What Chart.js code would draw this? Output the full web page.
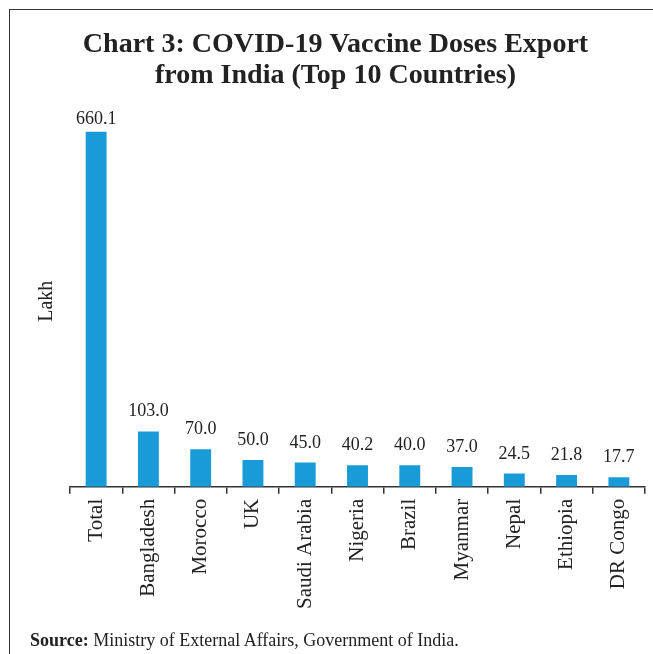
<!DOCTYPE html>
<html>
<head>
<meta charset="utf-8">
<script src="https://cdn.jsdelivr.net/npm/chart.js@4.4.0/dist/chart.umd.min.js"></script>
<style>
    html, body { margin: 0; padding: 0; background: #fff; }
    #wrap { position: relative; width: 653px; height: 654px; overflow: hidden; }
    #cornice { position: absolute; left: 9px; top: 9px; right: 0; bottom: 0; border-top: 1px solid #333; border-left: 1px solid #333; }
    #grafico { position: absolute; left: 0; top: 0; }
    #fonte { position: absolute; left: 30px; top: 630px; font: 18px 'Liberation Serif', serif; color: #222; white-space: nowrap; }
    #fonte b { font-weight: bold; }
</style>
</head>
<body>
<div id="wrap">
    <div id="cornice"></div>
    <canvas id="grafico" width="653" height="654"></canvas>
    <div id="fonte"><b>Source:</b> Ministry of External Affairs, Government of India.</div>
</div>
<script>
const paesi = ['Total','Bangladesh','Morocco','UK','Saudi Arabia','Nigeria','Brazil','Myanmar','Nepal','Ethiopia','DR Congo']
const dosi = [660.1, 103.0, 70.0, 50.0, 45.0, 40.2, 40.0, 37.0, 24.5, 21.8, 17.7]
const titolo = ['Chart 3: COVID-19 Vaccine Doses Export', 'from India (Top 10 Countries)']
const unita = 'Lakh'

// scrive il valore sopra ogni barra, senza uscire dall'area del grafico
const etichette = {
    id: 'etichette',
    afterDatasetsDraw(chart) {
        const ctx = chart.ctx
        const meta = chart.getDatasetMeta(0)
        ctx.save()
        ctx.font = '18px "Liberation Serif", serif'
        ctx.fillStyle = '#222'
        ctx.textAlign = 'center'
        ctx.textBaseline = 'alphabetic'
        meta.data.forEach((barra, i) => {
            let y = Math.max(barra.y - 15, chart.chartArea.top + 8)
            ctx.fillText(dosi[i].toFixed(1), barra.x, y)
        })
        ctx.restore()
    }
}

new Chart(document.getElementById('grafico'), {
    type: 'bar',
    data: {
        labels: paesi,
        datasets: [{
            data: dosi,
            backgroundColor: '#189bd7',
            borderWidth: 0,
            categoryPercentage: 1,
            barPercentage: 0.4
        }]
    },
    options: {
        responsive: false,
        animation: false,
        layout: {
            padding: { top: 18, left: 26, right: 8, bottom: 40 }
        },
        plugins: {
            legend: { display: false },
            tooltip: { enabled: false },
            title: {
                display: true,
                text: titolo,
                color: '#222',
                font: { family: 'Liberation Serif', size: 28, weight: 'bold', lineHeight: 1.12 },
                padding: { top: 11, bottom: 24 }
            }
        },
        scales: {
            x: {
                grid: {
                    display: true,
                    drawOnChartArea: false,
                    drawTicks: true,
                    tickLength: 7,
                    color: '#333',
                    lineWidth: 1.5
                },
                border: { display: true, color: '#333', width: 1.5 },
                ticks: {
                    autoSkip: false,
                    minRotation: 90,
                    maxRotation: 90,
                    padding: 5,
                    color: '#222',
                    font: { family: 'Liberation Serif', size: 21 }
                }
            },
            y: {
                min: 0,
                max: 690,
                grid: { display: false, drawTicks: false },
                border: { display: false },
                ticks: { display: false },
                title: {
                    display: true,
                    text: unita,
                    color: '#222',
                    font: { family: 'Liberation Serif', size: 20 },
                    padding: { top: 9, bottom: 11 }
                }
            }
        }
    },
    plugins: [etichette]
})
</script>
</body>
</html>
